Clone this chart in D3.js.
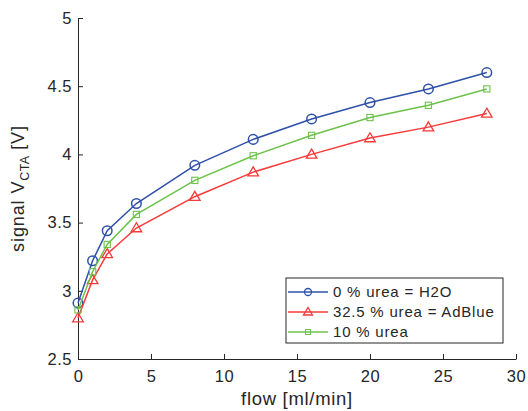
<!DOCTYPE html>
<html>
<head>
<meta charset="utf-8">
<script src="https://cdn.jsdelivr.net/npm/d3@7"></script>
<style>
  body { margin: 0; background: #fff; }
  text { font-family: "Liberation Sans", Arial, sans-serif; fill: #262626; }
</style>
</head>
<body>
<div id="chart"></div>
<script>
var fullwidth = 528, fullheight = 411;
var margin = {top: 18, right: 12, bottom: 52, left: 78};
var width = fullwidth - margin.left - margin.right;
var height = fullheight - margin.top - margin.bottom;

// data
var flow = [0, 1, 2, 4, 8, 12, 16, 20, 24, 28];
var h2o = [2.91, 3.22, 3.44, 3.64, 3.92, 4.11, 4.26, 4.38, 4.48, 4.60];
var adblue = [2.80, 3.08, 3.27, 3.46, 3.69, 3.87, 4.00, 4.12, 4.20, 4.30];
var urea10 = [2.86, 3.14, 3.34, 3.56, 3.81, 3.99, 4.14, 4.27, 4.36, 4.48];
var xTicks = [0, 5, 10, 15, 20, 25, 30];
var yTicks = [2.5, 3, 3.5, 4, 4.5, 5];

var series = [
  {name: "0 % urea = H2O", values: h2o, color: "#2e50a8", marker: "circle"},
  {name: "32.5 % urea = AdBlue", values: adblue, color: "#f53a3a", marker: "triangle"},
  {name: "10 % urea", values: urea10, color: "#6cc24a", marker: "square"}
];

var svg = d3.select("#chart").append("svg")
    .attr("width", fullwidth)
    .attr("height", fullheight)
  .append("g")
    .attr("transform", "translate(" + margin.left + "," + margin.top + ")");

var xScale = d3.scaleLinear().domain([0, 30]).range([0, width]);
var yScale = d3.scaleLinear().domain([2.5, 5]).range([height, 0]);

// axes, ticks pointing inward like matlab
var xAxis = d3.axisBottom(xScale).tickValues(xTicks).tickSizeInner(-5).tickSizeOuter(0).tickPadding(11);
var yAxis = d3.axisLeft(yScale).tickValues(yTicks).tickSizeInner(-5).tickSizeOuter(0).tickPadding(6)
    .tickFormat(function(d) { return d; });

var gx = svg.append("g")
    .attr("transform", "translate(0," + height + ")")
    .call(xAxis);
var gy = svg.append("g").call(yAxis);

[gx, gy].forEach(function(g) {
  g.selectAll("path, line").attr("stroke", "#262626").attr("stroke-width", 1);
  g.selectAll("text").attr("font-size", 16.5).style("fill", "#262626")
    .style("letter-spacing", "0.5px")
    .attr("font-family", "Liberation Sans, Arial, sans-serif");
});

svg.append("text")
    .attr("x", xScale(15))
    .attr("y", height + 46)
    .attr("text-anchor", "middle")
    .attr("font-size", 18.5)
    .style("letter-spacing", "0.7px")
    .text("flow [ml/min]");

var ylab = svg.append("text")
    .attr("transform", "translate(-54," + yScale(3.75) + ") rotate(-90)")
    .attr("text-anchor", "middle")
    .attr("font-size", 18)
    .style("letter-spacing", "0.9px");
ylab.append("tspan").text("signal V");
ylab.append("tspan").attr("font-size", 12.5).attr("dy", 5).style("letter-spacing", "0.3px").text("CTA");
ylab.append("tspan").attr("dy", -5).text(" [V]");

function drawMarker(g, type, color, x, y) {
  if (type === "circle") {
    g.append("circle").attr("cx", x).attr("cy", y).attr("r", 4.8)
      .attr("fill", "none").attr("stroke", color).attr("stroke-width", 1.5);
  } else if (type === "triangle") {
    var s = 5.3;
    g.append("path")
      .attr("d", "M" + x + "," + (y - s) + "L" + (x + s) + "," + (y + s * 0.7) + "L" + (x - s) + "," + (y + s * 0.7) + "Z")
      .attr("fill", "none").attr("stroke", color).attr("stroke-width", 1.3);
  } else {
    var h = 3.1;
    g.append("rect").attr("x", x - h).attr("y", y - h).attr("width", 2 * h).attr("height", 2 * h)
      .attr("fill", "none").attr("stroke", color).attr("stroke-width", 1.1);
  }
}

var line = d3.line()
    .x(function(d) { return xScale(d[0]); })
    .y(function(d) { return yScale(d[1]); });

series.forEach(function(s) {
  var pts = flow.map(function(f, i) { return [f, s.values[i]]; });
  var g = svg.append("g");
  g.append("path").datum(pts)
    .attr("d", line)
    .attr("fill", "none")
    .attr("stroke", s.color)
    .attr("stroke-width", 1.5);
  pts.forEach(function(p) {
    drawMarker(g, s.marker, s.color, xScale(p[0]), yScale(p[1]));
  });
});

// legend
var lg = svg.append("g").attr("transform", "translate(" + (286 - margin.left) + "," + (278 - margin.top) + ")");
lg.append("rect").attr("width", 217).attr("height", 65)
  .attr("fill", "#fff").attr("stroke", "#262626").attr("stroke-width", 1);
series.forEach(function(s, i) {
  var yy = 14 + i * 20;
  lg.append("line").attr("x1", 2).attr("x2", 42).attr("y1", yy).attr("y2", yy)
    .attr("stroke", s.color).attr("stroke-width", 1.5);
  var mg = lg.append("g");
  if (s.marker === "circle") {
    mg.append("circle").attr("cx", 22).attr("cy", yy).attr("r", 3.5)
      .attr("fill", "none").attr("stroke", s.color).attr("stroke-width", 1.3);
  } else if (s.marker === "triangle") {
    mg.append("path").attr("d", "M22," + (yy - 4.5) + "L26.5," + (yy + 3) + "L17.5," + (yy + 3) + "Z")
      .attr("fill", "none").attr("stroke", s.color).attr("stroke-width", 1.3);
  } else {
    mg.append("rect").attr("x", 19.5).attr("y", yy - 2.5).attr("width", 5).attr("height", 5)
      .attr("fill", "none").attr("stroke", s.color).attr("stroke-width", 1);
  }
  lg.append("text").attr("x", 47).attr("y", yy + 5).attr("font-size", 15)
    .style("letter-spacing", "0.8px").text(s.name);
});
</script>
</body>
</html>
